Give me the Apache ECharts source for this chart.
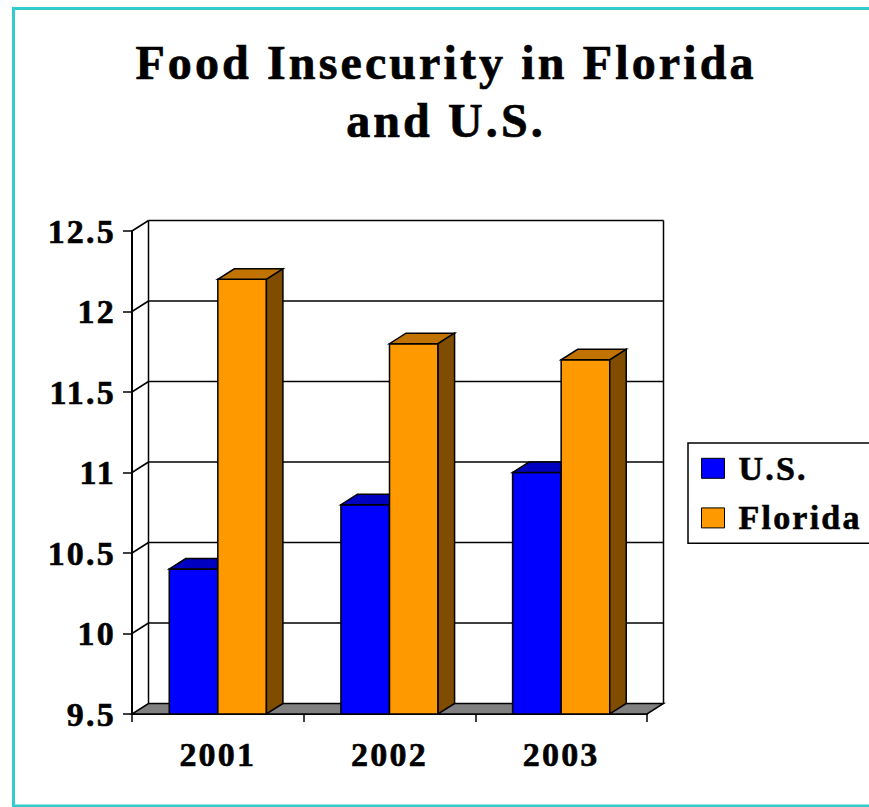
<!DOCTYPE html>
<html>
<head>
<meta charset="utf-8">
<script src="https://cdn.jsdelivr.net/npm/echarts@6/dist/echarts.min.js"></script>
<style>
  html, body { margin: 0; padding: 0; background: #fff; }
  #chart { width: 869px; height: 807px; }
  /* the original rendering has loosely spaced serif text */
  #chart svg text { letter-spacing: 0.065em; }
</style>
</head>
<body>
<div id="chart"></div>
<script>
// data
const years = ["2001", "2002", "2003"];
const usValues = [10.4, 10.8, 11.0];
const floridaValues = [12.2, 11.8, 11.7];
const yTicks = [9.5, 10, 10.5, 11, 11.5, 12, 12.5];
const yMin = 9.5;
const yMax = 12.5;
const yStep = 0.5;

// 3D look: depth offset of the back wall / bar tops
const DX = 16.5;
const DY = 10.5;
const BAR_FRACTION = 0.283;
const FONT = '"Liberation Serif", "Times New Roman", serif';
const EDGE = { stroke: "#000", lineWidth: 1.5 };

const chart = echarts.init(document.getElementById("chart"), null, {
  renderer: "svg",
});

// back wall, left wall diagonals and floor
function renderWall(params, api) {
  const v = api.value(1);
  const p = api.coord([0, v]);
  const band = api.size([1, 0])[0];
  const left = p[0] - band / 2;
  const right = left + band * years.length;
  const children = [];

  if (params.dataIndex === 0) {
    const top = api.coord([0, yMax])[1];
    children.push({
      type: "line",
      shape: { x1: left + DX, y1: top - DY, x2: left + DX, y2: p[1] - DY },
      style: EDGE,
    });
    children.push({
      type: "line",
      shape: { x1: right + DX, y1: top - DY, x2: right + DX, y2: p[1] - DY },
      style: EDGE,
    });
    children.push({
      type: "polygon",
      shape: {
        points: [
          [left, p[1]],
          [right, p[1]],
          [right + DX, p[1] - DY],
          [left + DX, p[1] - DY],
        ],
      },
      style: { fill: "#808080", stroke: "#000", lineWidth: 1.5 },
    });
  } else {
    children.push({
      type: "line",
      shape: { x1: left + DX, y1: p[1] - DY, x2: right + DX, y2: p[1] - DY },
      style: EDGE,
    });
    children.push({
      type: "line",
      shape: { x1: left, y1: p[1], x2: left + DX, y2: p[1] - DY },
      style: EDGE,
    });
  }
  return { type: "group", children };
}

function barRenderer(offsetSide, frontColor, topColor, sideColor) {
  return function (params, api) {
    const idx = api.value(0);
    const base = api.coord([idx, yMin]);
    const top = api.coord([idx, api.value(1)]);
    const band = api.size([1, 0])[0];
    const w = band * BAR_FRACTION;
    const x0 = offsetSide < 0 ? base[0] - w : base[0];
    const x1 = x0 + w;
    return {
      type: "group",
      children: [
        {
          type: "rect",
          shape: { x: x0, y: top[1], width: w, height: base[1] - top[1] },
          style: { fill: frontColor, stroke: "#000", lineWidth: 1.5 },
        },
        {
          type: "polygon",
          shape: {
            points: [
              [x0, top[1]],
              [x1, top[1]],
              [x1 + DX, top[1] - DY],
              [x0 + DX, top[1] - DY],
            ],
          },
          style: { fill: topColor, stroke: "#000", lineWidth: 1.5 },
        },
        {
          type: "polygon",
          shape: {
            points: [
              [x1, top[1]],
              [x1 + DX, top[1] - DY],
              [x1 + DX, base[1] - DY],
              [x1, base[1]],
            ],
          },
          style: { fill: sideColor, stroke: "#000", lineWidth: 1.5 },
        },
      ],
    };
  };
}

const labelFont = {
  color: "#000",
  fontFamily: FONT,
  fontWeight: "bold",
  fontSize: 34,
  textBorderColor: "#000",
  textBorderWidth: 0.6,
};

const option = {
  animation: false,
  backgroundColor: "#fff",
  graphic: [
    {
      type: "rect",
      shape: { x: 13.5, y: 8.5, width: 900, height: 797.5 },
      style: { fill: "none", stroke: "#33CCCC", lineWidth: 3 },
      z: -10,
    },
    {
      type: "text",
      x: 446,
      y: 33,
      style: {
        text: "Food Insecurity in Florida\nand U.S.",
        fill: "#000",
        stroke: "#000",
        lineWidth: 0.7,
        fontFamily: FONT,
        fontWeight: "bold",
        fontSize: 48,
        lineHeight: 58,
        align: "center",
        verticalAlign: "top",
      },
    },
  ],
  legend: {
    orient: "vertical",
    left: 688,
    top: 443,
    data: ["U.S.", "Florida"],
    icon: "rect",
    itemWidth: 23,
    itemHeight: 20,
    itemGap: 15,
    padding: [8, 60, 8, 13],
    borderColor: "#000",
    borderWidth: 1.5,
    itemStyle: { borderColor: "#000", borderWidth: 1 },
    textStyle: { ...labelFont, padding: [0, 0, 0, 9] },
  },
  grid: { left: 132, right: 222, top: 231, bottom: 93 },
  xAxis: {
    type: "category",
    data: years,
    axisLine: { lineStyle: { color: "#000", width: 2 } },
    axisTick: { show: true, length: 8, lineStyle: { color: "#000", width: 1.5 } },
    axisLabel: { ...labelFont, margin: 23 },
    splitLine: { show: false },
  },
  yAxis: {
    type: "value",
    min: yMin,
    max: yMax,
    interval: yStep,
    axisLine: { show: true, lineStyle: { color: "#000", width: 2 } },
    axisTick: { show: true, length: 9, lineStyle: { color: "#000", width: 1.5 } },
    axisLabel: { ...labelFont, margin: 16 },
    splitLine: { show: false },
  },
  series: [
    {
      name: "wall",
      type: "custom",
      renderItem: renderWall,
      data: yTicks.map((v) => [0, v]),
      encode: { x: 0, y: 1 },
      silent: true,
      z: 1,
    },
    {
      name: "U.S.",
      type: "custom",
      renderItem: barRenderer(-1, "#0000FF", "#0000C0", "#00007F"),
      data: usValues.map((v, i) => [i, v]),
      encode: { x: 0, y: 1 },
      itemStyle: { color: "#0000FF" },
      z: 2,
    },
    {
      name: "Florida",
      type: "custom",
      renderItem: barRenderer(1, "#FF9900", "#C07300", "#7F4C00"),
      data: floridaValues.map((v, i) => [i, v]),
      encode: { x: 0, y: 1 },
      itemStyle: { color: "#FF9900" },
      z: 3,
    },
  ],
};

chart.setOption(option);
</script>
</body>
</html>
